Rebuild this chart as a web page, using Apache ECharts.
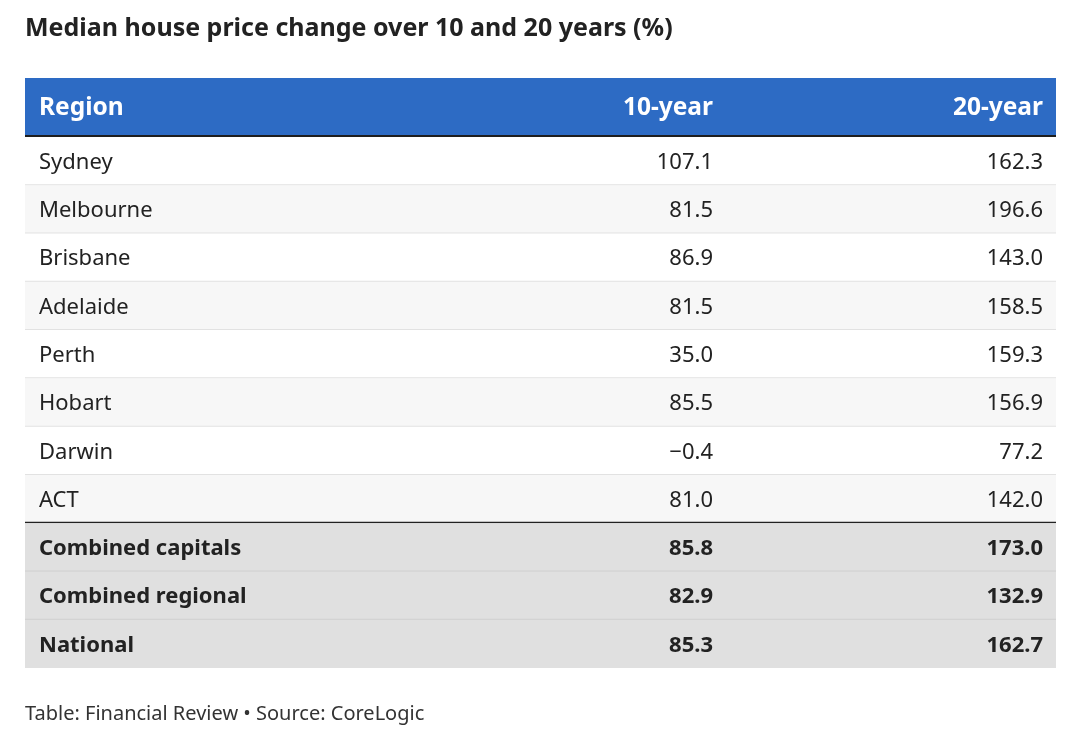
<!DOCTYPE html>
<html>
<head>
<meta charset="utf-8">
<script src="https://cdn.jsdelivr.net/npm/echarts@6/dist/echarts.min.js"></script>
<style>
html,body{margin:0;padding:0;background:#fff;}
#chart{width:1080px;height:732px;}
</style>
</head>
<body>
<div id="chart"></div>
<script>
// ---- data ----
const headers = ['Region', '10-year', '20-year'];
const regions = ['Sydney', 'Melbourne', 'Brisbane', 'Adelaide', 'Perth', 'Hobart', 'Darwin', 'ACT',
  'Combined capitals', 'Combined regional', 'National'];
const tenYear = [107.1, 81.5, 86.9, 81.5, 35.0, 85.5, -0.4, 81.0, 85.8, 82.9, 85.3];
const twentyYear = [162.3, 196.6, 143.0, 158.5, 159.3, 156.9, 77.2, 142.0, 173.0, 132.9, 162.7];
const summaryStart = 8; // index of first summary (bold) row

const titleText = 'Median house price change over 10 and 20 years (%)';
const footerText = 'Table: Financial Review \u2022 Source: CoreLogic';

// ---- layout / style ----
const W = 1031;            // table width in axis units
const colAnchor = [14, 688, 1018];
const colAlign = ['left', 'right', 'right'];
const FONT = '"Noto Sans", "Open Sans", sans-serif';
const TEXT = '#222222';

function fmt(v) {
  const s = Math.abs(v).toFixed(1);
  return v < 0 ? '\u2212' + s : s;
}

const chart = echarts.init(document.getElementById('chart'), null, {renderer: 'canvas'});

function headerItem(params, api) {
  const idx = api.value(0);
  const c0 = api.coord([0, idx]);
  const c1 = api.coord([W, idx]);
  const band = api.size([0, 1])[1];
  const top = c0[1] - band / 2;
  const children = [{
    type: 'rect',
    shape: {x: c0[0], y: top, width: c1[0] - c0[0], height: band},
    style: {fill: '#2d6bc4'}
  }, {
    type: 'rect',
    shape: {x: c0[0], y: top + band - 2, width: c1[0] - c0[0], height: 2},
    style: {fill: '#1e1e1e'}
  }];
  headers.forEach((h, i) => {
    const p = api.coord([colAnchor[i], idx]);
    children.push({
      type: 'text',
      x: p[0], y: p[1] + 1,
      style: {text: h, fill: '#ffffff', font: 'bold 24.5px ' + FONT, align: colAlign[i], verticalAlign: 'middle'}
    });
  });
  return {type: 'group', children};
}

function bodyItem(params, api) {
  const idx = api.value(0);
  const c0 = api.coord([0, idx]);
  const c1 = api.coord([W, idx]);
  const band = api.size([0, 1])[1];
  const top = c0[1] - band / 2;
  const width = c1[0] - c0[0];
  const summary = idx >= summaryStart;
  const fill = summary ? '#e0e0e0' : (idx % 2 === 1 ? '#f7f7f7' : '#ffffff');
  const children = [{
    type: 'rect',
    shape: {x: c0[0], y: top, width, height: band},
    style: {fill}
  }];
  if (idx < regions.length - 1) {
    if (idx === summaryStart - 1) {
      children.push({type: 'rect', shape: {x: c0[0], y: top + band - 1.5, width, height: 1.5}, style: {fill: '#222222'}});
    } else {
      children.push({type: 'rect', shape: {x: c0[0], y: top + band - 1, width, height: 1.5}, style: {fill: summary ? '#cfcfcf' : '#e2e2e2'}});
    }
  }
  const vals = [regions[idx], fmt(tenYear[idx]), fmt(twentyYear[idx])];
  const font = (summary ? 'bold ' : '') + '22px ' + FONT;
  vals.forEach((t, i) => {
    const p = api.coord([colAnchor[i], idx]);
    children.push({
      type: 'text',
      x: p[0], y: p[1] + 1.5,
      style: {text: t, fill: TEXT, font, align: colAlign[i], verticalAlign: 'middle'}
    });
  });
  return {type: 'group', children};
}

const option = {
  animation: false,
  backgroundColor: '#ffffff',
  title: [{
    text: titleText, left: 25, top: 16, padding: 0,
    textStyle: {fontFamily: FONT, fontWeight: 'bold', fontSize: 25, color: '#222222'}
  }, {
    text: footerText, left: 25, top: 704, padding: 0,
    textStyle: {fontFamily: FONT, fontWeight: 'normal', fontSize: 20, color: '#333333'}
  }],
  grid: [
    {left: 25, right: 24, top: 78, height: 59},
    {left: 25, right: 24, top: 137, height: 531}
  ],
  xAxis: [
    {type: 'value', gridIndex: 0, min: 0, max: W, show: false},
    {type: 'value', gridIndex: 1, min: 0, max: W, show: false}
  ],
  yAxis: [
    {type: 'category', gridIndex: 0, data: ['header'], show: false},
    {type: 'category', gridIndex: 1, data: regions, inverse: true, show: false}
  ],
  series: [{
    type: 'custom', xAxisIndex: 0, yAxisIndex: 0, silent: true,
    renderItem: headerItem, encode: {y: 0}, data: [[0]]
  }, {
    type: 'custom', xAxisIndex: 1, yAxisIndex: 1, silent: true,
    renderItem: bodyItem, encode: {y: 0}, data: regions.map((r, i) => [i])
  }]
};
chart.setOption(option);
</script>
</body>
</html>
